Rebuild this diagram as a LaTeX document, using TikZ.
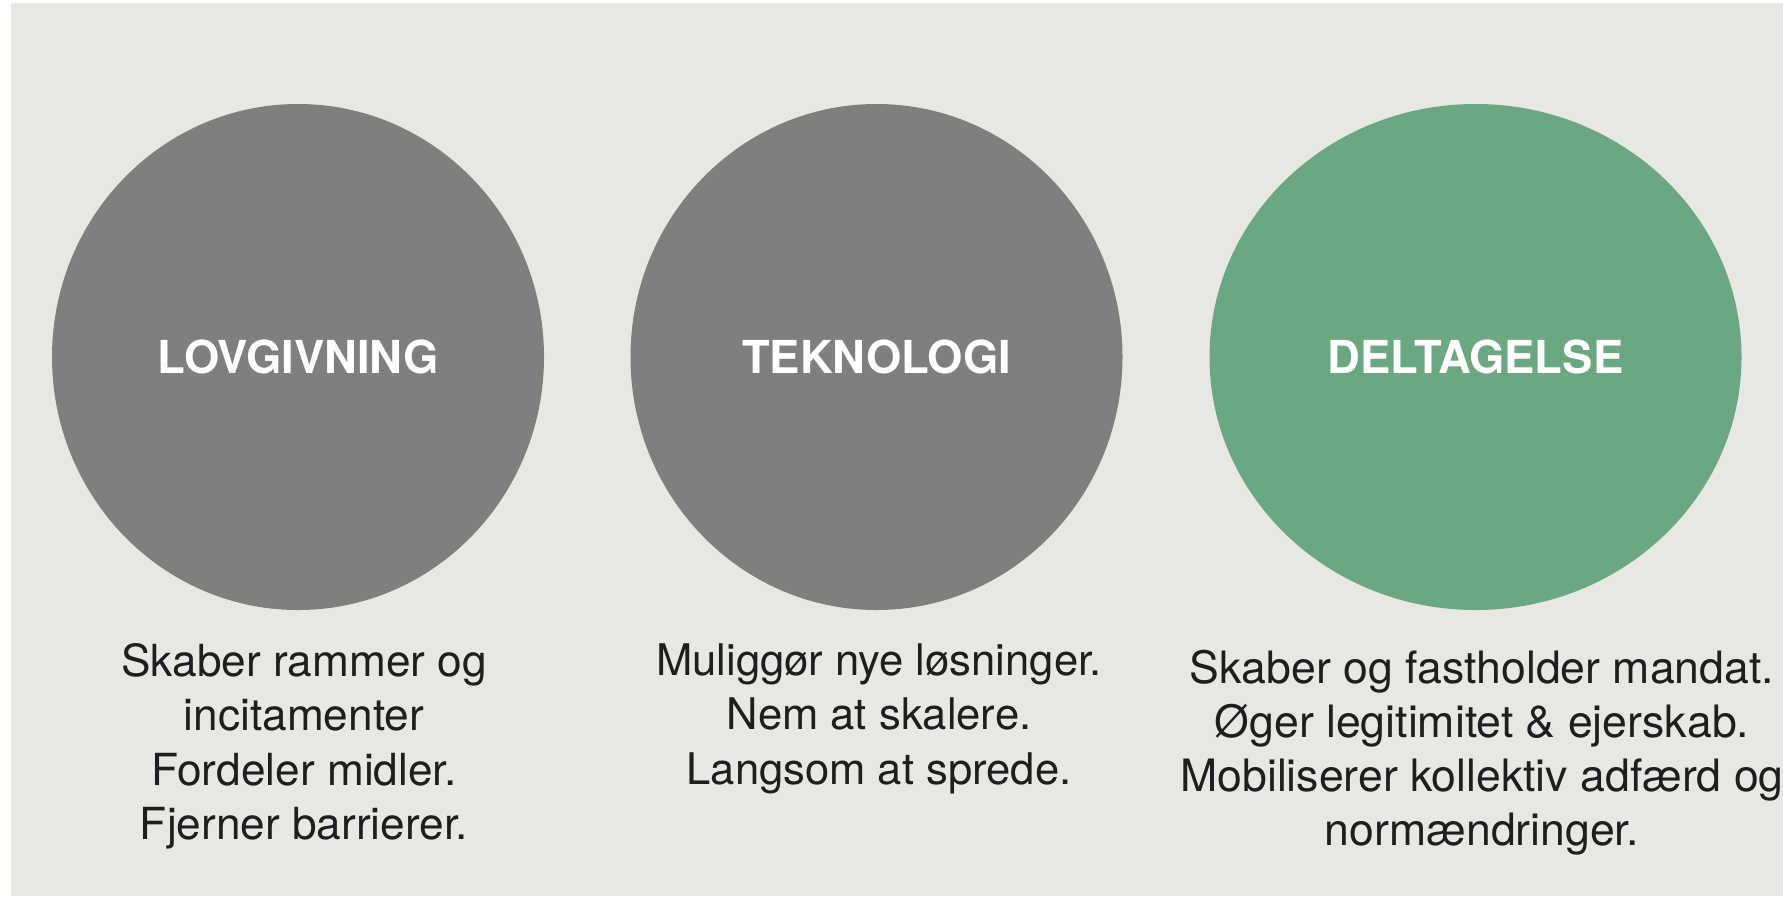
\documentclass[tikz,border=0pt]{standalone}
\usepackage{fontspec}
\setmainfont{TeX Gyre Heros}
\usetikzlibrary{shapes.geometric}
\definecolor{bgc}{RGB}{231,231,227}
\definecolor{greyc}{RGB}{127,127,125}
\definecolor{greenc}{RGB}{107,167,128}
\definecolor{txtc}{RGB}{30,30,30}
\tikzset{
  blob/.style={ellipse, inner sep=0pt, draw=none, minimum height=253pt},
  greyblob/.style={blob, fill=greyc, minimum width=246pt},
  greenblob/.style={blob, fill=greenc, minimum width=266pt},
  title/.style={text=white, inner sep=0pt, font=\fontsize{22.7}{26}\selectfont\bfseries},
  desc/.style={text=txtc, inner sep=0pt, align=center, anchor=north},
}
\begin{document}
\begin{tikzpicture}[x=0.5pt,y=-0.5pt]
\useasboundingbox (0,0) rectangle (1783,896);
\fill[bgc] (11,3) rectangle (1783,896);
\node[greyblob] (c1) at (298,357) {};
\node[greyblob] (c2) at (876.5,357) {};
\node[greenblob] (c3) at (1475.5,357) {};
\node[title] (t1) at (c1.center) {LOVGIVNING};
\node[title] (t2) at (c2.center) {TEKNOLOGI};
\node[title] (t3) at (c3.center) {DELTAGELSE};
\node[desc, font=\fontsize{22.1}{27.25}\selectfont] (d1) at (304,643)
  {Skaber rammer og\\incitamenter\\Fordeler midler.\\Fjerner barrierer.};
\node[desc, font=\fontsize{21.8}{27.25}\selectfont] (d2) at (879,643)
  {Muliggør nye løsninger.\\Nem at skalere.\\Langsom at sprede.};
\node[desc, font=\fontsize{22.3}{26.9}\selectfont] (d3) at (1482,650)
  {Skaber og fastholder mandat.\\Øger legitimitet \& ejerskab.\\Mobiliserer kollektiv adfærd og\\normændringer.};
\end{tikzpicture}
\end{document}
